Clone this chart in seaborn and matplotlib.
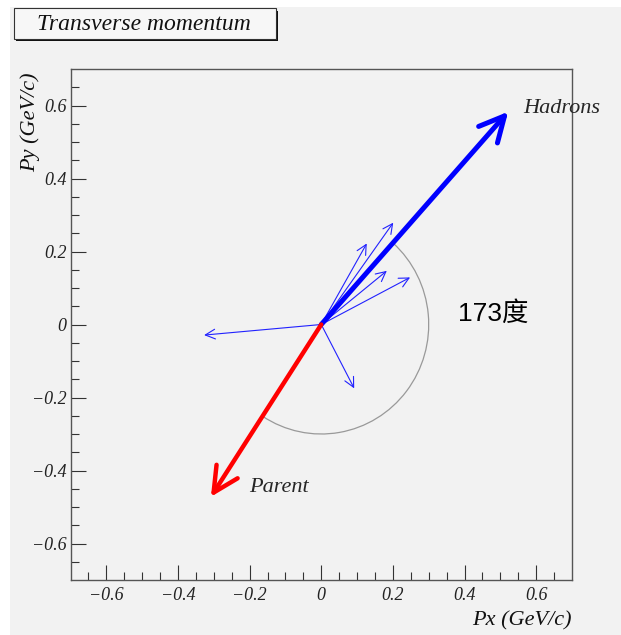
import numpy as np
import matplotlib
matplotlib.use("Agg")
import matplotlib.pyplot as plt
from matplotlib.patches import Rectangle, Arc
from matplotlib.ticker import FixedLocator, FixedFormatter
import seaborn as sns

# ---------------- data ----------------
title = "Transverse momentum"
xlabel = "Px (GeV/c)"
ylabel = "Py (GeV/c)"
tick_values = [-0.6, -0.4, -0.2, 0.0, 0.2, 0.4, 0.6]
tick_labels = ["\u22120.6", "\u22120.4", "\u22120.2", "0", "0.2", "0.4", "0.6"]

# individual hadron momenta (px, py)
hadron_px = [0.201, 0.127, 0.183, 0.248, -0.327, 0.092]
hadron_py = [0.279, 0.222, 0.147, 0.129, -0.029, -0.175]

# total hadron and parent momenta
total_hadrons = (0.522, 0.583)
parent = (-0.308, -0.472)
arc_radius = 0.3
angle_text = "173度"

# ---------------- style ----------------
BG = "#f2f2f2"
sns.set_theme(style="ticks", rc={
    "axes.facecolor": BG,
    "figure.facecolor": "white",
    "axes.edgecolor": "#555555",
    "axes.linewidth": 1.0,
    "xtick.direction": "in",
    "ytick.direction": "in",
})
plt.rcParams["font.family"] = ["Liberation Serif", "DejaVu Serif"]
plt.rcParams["mathtext.default"] = "regular"

fig = plt.figure(figsize=(6.21, 6.35), dpi=100)
W, H = 621, 635
# gray canvas
fig.patches.append(Rectangle((10 / W, 0), 611 / W, 628 / H, transform=fig.transFigure,
                             facecolor=BG, edgecolor="none", zorder=-10))

ax = fig.add_axes([70.5 / W, 1 - 580 / H, 501.5 / W, 511 / H])
ax.set_xlim(-0.7, 0.7)
ax.set_ylim(-0.7, 0.7)

serif_it = dict(family=["Liberation Serif", "DejaVu Serif"], style="italic")

# ticks
for axis in (ax.xaxis, ax.yaxis):
    axis.set_major_locator(FixedLocator(tick_values))
    axis.set_major_formatter(FixedFormatter(tick_labels))
    axis.set_minor_locator(FixedLocator(np.round(np.arange(-0.65, 0.70, 0.05), 3)))
ax.tick_params(which="major", length=11, width=0.8, color="#333333",
               top=False, right=False)
ax.tick_params(which="minor", length=5.5, width=0.8, color="#333333",
               top=False, right=False)
ax.tick_params(axis="x", which="major", pad=5)
ax.tick_params(axis="y", which="major", pad=3)
for lab in ax.get_xticklabels() + ax.get_yticklabels():
    lab.set_fontfamily(serif_it["family"])
    lab.set_fontstyle("italic")
    lab.set_fontsize(13)
    lab.set_color("#222222")

ax.set_xlabel(xlabel, fontsize=16, **serif_it, color="#111111")
ax.xaxis.set_label_coords(1.0, -0.080)
ax.xaxis.label.set_ha("right")
ax.xaxis.label.set_va("center")
ax.set_ylabel(ylabel, fontsize=16, **serif_it, color="#111111")
ax.yaxis.set_label_coords(-0.081, 0.994)
ax.yaxis.label.set_ha("right")
ax.yaxis.label.set_va("center")

# thin hadron arrows
for px, py in zip(hadron_px, hadron_py):
    ax.annotate("", xy=(px, py), xytext=(0, 0),
                arrowprops=dict(arrowstyle="->,head_length=0.7,head_width=0.35",
                                color="#2222ff", lw=0.8, mutation_scale=10,
                                shrinkA=0, shrinkB=0), zorder=3)

# angle arc
a_h = np.degrees(np.arctan2(total_hadrons[1], total_hadrons[0]))
a_p = np.degrees(np.arctan2(parent[1], parent[0]))
ax.add_patch(Arc((0, 0), 2 * arc_radius, 2 * arc_radius, theta1=a_p, theta2=a_h,
                 color="#999999", lw=0.9, zorder=2))

# thick arrows
ax.annotate("", xy=total_hadrons, xytext=(0, 0),
            arrowprops=dict(arrowstyle="->,head_length=1.8,head_width=0.9",
                            color="#0000ff", lw=3.6, mutation_scale=10,
                            shrinkA=0, shrinkB=0), zorder=4)
ax.annotate("", xy=parent, xytext=(0, 0),
            arrowprops=dict(arrowstyle="->,head_length=1.8,head_width=0.9",
                            color="#ff0000", lw=3.2, mutation_scale=10,
                            shrinkA=0, shrinkB=0), zorder=5)

ax.text(0.563, 0.579, "Hadrons", fontsize=16, va="baseline", ha="left", **serif_it)
ax.text(-0.202, -0.459, "Parent", fontsize=16, va="baseline", ha="left", **serif_it)
ax.text(0.382, 0.030, angle_text, fontsize=19, va="center", ha="left",
        family=["Liberation Sans", "Noto Sans CJK SC"], color="black")

# title box with shadow
fig.patches.append(Rectangle((16 / W, 1 - 41 / H), 262 / W, 30 / H, transform=fig.transFigure,
                             facecolor="#111111", edgecolor="none", zorder=1))
fig.patches.append(Rectangle((13.5 / W, 1 - 38.5 / H), 262 / W, 30 / H, transform=fig.transFigure,
                             facecolor="#f7f7f7", edgecolor="#333333", lw=0.8, zorder=2))
fig.text(144 / W, 1 - 24 / H, title, fontsize=17, ha="center", va="center",
         **serif_it, color="#111111")

fig.savefig("out.png", dpi=100)
